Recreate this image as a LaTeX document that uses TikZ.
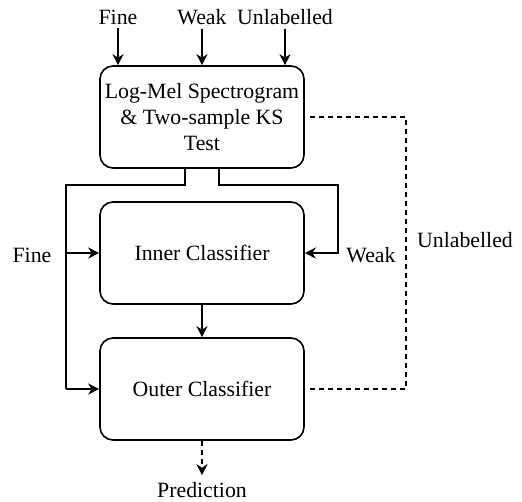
\documentclass[tikz,border=0pt]{standalone}
\usepackage{fontspec}
\setmainfont{Liberation Serif}
\usetikzlibrary{arrows.meta}
\begin{document}
\begin{tikzpicture}[x=1pt,y=-1pt,>={Stealth[length=11pt,width=11pt,inset=3.5pt]},
	line width=1.6pt,
	font=\fontsize{21.8}{26}\selectfont,
	block/.style={draw,rounded corners=13pt,minimum width=204pt,minimum height=102pt,align=center,inner sep=2pt},
	dashline/.style={dash pattern=on 5pt off 4pt}]
	\useasboundingbox (0,0) rectangle (522,501);
	% boxes
	\node[block] (ks) at (202,117) {Log-Mel Spectrogram\\\& Two-sample KS\\Test};
	\node[block] (inner) at (202,253) {Inner Classifier};
	\node[block] (outer) at (202,389) {Outer Classifier};
	% inputs
	\node (fineIn) at (118,17) {Fine};
	\node (weakIn) at (202,17) {Weak};
	\node (unlIn) at (285,17) {Unlabelled};
	\foreach \n in {fineIn,weakIn,unlIn}
		\draw[->] (\n.south) -- (\n.south |- ks.north);
	% split rails
	\coordinate (railL) at (66,185);
	\coordinate (railR) at (338,185);
	\draw ([xshift=-17pt]ks.south) |- (railL) -- (railL |- outer);
	\draw[->] (railL |- outer) -- (outer.west);
	\draw[->] (railL |- inner) -- (inner.west);
	\draw[->] ([xshift=17pt]ks.south) |- (railR) |- (inner.east);
	\node (fineLbl) at (32,255) {Fine};
	\node (weakLbl) at (371,255) {Weak};
	% inner to outer
	\draw[->] (inner) -- (outer);
	% unlabelled loop
	\coordinate (loopT) at (406,117);
	\draw[dashline] ([xshift=5pt]ks.east) -- (loopT) -- (loopT |- outer) -- ([xshift=5pt]outer.east);
	\node (unlLbl) at (465,240) {Unlabelled};
	% output
	\node (pred) at (202,490) {Prediction};
	\draw[->,dashline] (outer) -- ([yshift=3pt]pred.north);
\end{tikzpicture}
\end{document}
